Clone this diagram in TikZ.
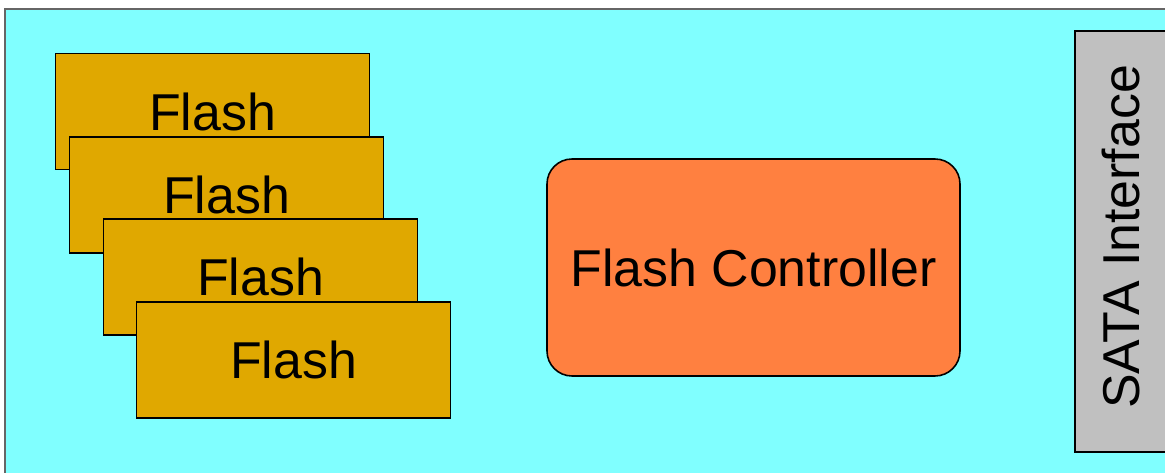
\documentclass[tikz,border=0pt]{standalone}
\usepackage{fontspec}
\setmainfont{Liberation Sans}
\definecolor{ssdbg}{RGB}{128,255,255}
\definecolor{flashgold}{RGB}{224,168,0}
\definecolor{ctrlorange}{RGB}{255,128,64}
\definecolor{satagray}{RGB}{192,192,192}
\begin{document}
\begin{tikzpicture}[font=\fontsize{29.5}{34}\selectfont,
  flashbox/.style={draw,line width=0.8pt,fill=flashgold,minimum width=6.28cm,minimum height=2.32cm},
  ctrlbox/.style={draw,line width=0.9pt,fill=ctrlorange,rounded corners=0.5cm,minimum width=8.26cm,minimum height=4.34cm}]
  % 画布
  \useasboundingbox (0,0) rectangle (23.3,9.44);
  \clip (0,0) rectangle (23.3,9.44);
  \fill[white] (0,0) rectangle (23.3,9.44);
  % 外框
  \draw[gray!80!black,line width=1pt,fill=ssdbg] (0.1,-1) rectangle (24,9.26);
  % Flash 芯片
  \node[flashbox] (flashA) at (4.25,7.21) {Flash};
  \node[flashbox] (flashB) at (4.53,5.54) {Flash};
  \node[flashbox] (flashC) at (5.21,3.90) {Flash};
  \node[flashbox] (flashD) at (5.87,2.24) {Flash};
  % 控制器
  \node[ctrlbox] (ctrl) at (15.07,4.09) {Flash Controller};
  % SATA 接口
  \draw[line width=0.8pt,fill=satagray] (21.5,0.4) rectangle (24,8.82);
  \node[rotate=90] (sata) at (22.42,4.70) {SATA Interface};
\end{tikzpicture}
\end{document}
